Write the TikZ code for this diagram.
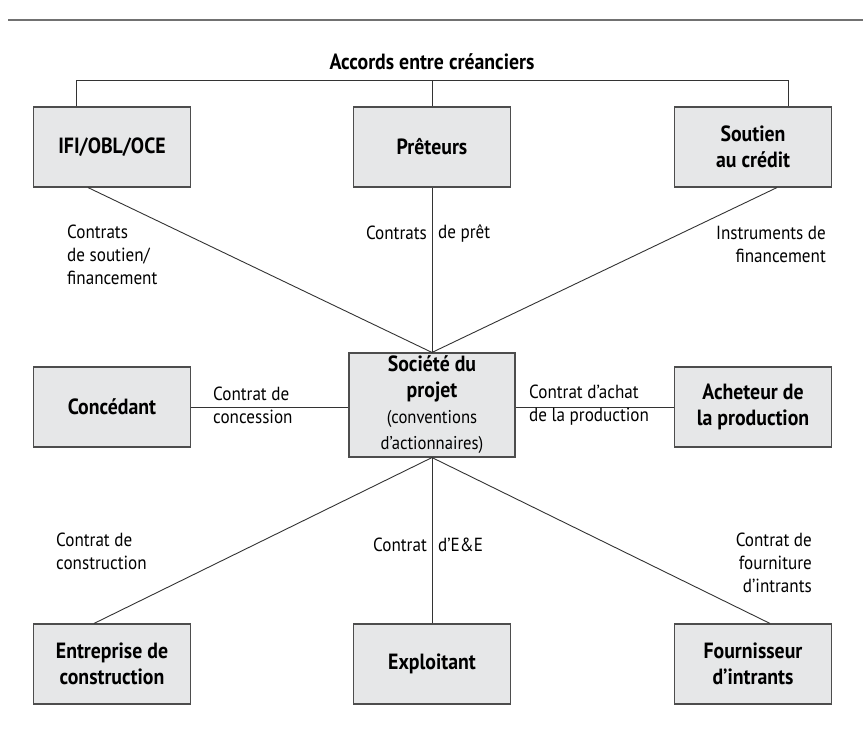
\documentclass[tikz,border=0pt]{standalone}
\usepackage{fontspec}
\setmainfont[FakeStretch=0.9]{PT Sans}
\definecolor{boxfill}{HTML}{E6E7E8}
\definecolor{boxline}{HTML}{4D4D4D}
\definecolor{linkline}{HTML}{333333}
\newcommand{\smallnote}{\mdseries\fontsize{18.5}{21}\selectfont}
\begin{document}
\begin{tikzpicture}[x=1pt, y=-1pt,
        party/.style={draw=boxline, fill=boxfill, line width=1.1pt, minimum width=157pt, minimum height=80pt, inner sep=2pt, align=center, font=\bfseries\fontsize{22}{26}\selectfont},
        title/.style={font=\bfseries\fontsize{22}{26}\selectfont, inner sep=0pt},
        contract/.style={font=\fontsize{19}{23}\selectfont, inner sep=0pt},
        link/.style={draw=linkline, line width=0.9pt},
        rule/.style={draw=boxline!80, line width=1.6pt},
    ]
	\useasboundingbox (0,0) rectangle (863,747);
	\draw[rule] (8,20) -- (863,20);
	\node[title] (accords) at (432,62) {Accords entre créanciers};
	% parties
	\node[party] (ifi) at (112,147) {IFI/OBL/OCE};
	\node[party] (pret) at (432,147) {Prêteurs};
	\node[party] (soutien) at (753,147) {Soutien\\au crédit};
	\node[party] (conc) at (112,407) {Concédant};
	\node[party, minimum width=166pt, minimum height=104pt] (societe) at (432,405) {Société du\\projet\\\smallnote(conventions\\\smallnote d’actionnaires)};
	\node[party] (achet) at (753,407) {Acheteur de\\la production};
	\node[party] (constr) at (112,664) {Entreprise de\\construction};
	\node[party] (exploit) at (432,664) {Exploitant};
	\node[party] (fourn) at (753,664) {Fournisseur\\d’intrants};
	% connectors
	\draw[link] ([xshift=-36pt]ifi.north) -- ++(0,-26) -| ([xshift=35pt]soutien.north);
	\draw[link] (pret.north) -- ++(0,-26);
	\draw[link] ([xshift=-24pt]ifi.south) -- (societe.north);
	\draw[link] (pret.south) -- (societe.north);
	\draw[link] ([xshift=24pt]soutien.south) -- (societe.north);
	\draw[link] (conc.east) -- (conc.east -| societe.west);
	\draw[link] (achet.west) -- (achet.west -| societe.east);
	\draw[link] ([xshift=-18pt]constr.north) -- (societe.south);
	\draw[link] (exploit.north) -- (societe.south);
	\draw[link] ([xshift=17pt]fourn.north) -- (societe.south);
	% contract labels
	\node[contract, anchor=west, align=left] (l_fin) at (67,255) {Contrats\\de soutien/\\financement};
	\node[contract, anchor=east] (l_pret1) at (427,233) {Contrats};
	\node[contract, anchor=west] (l_pret2) at (438,233) {de prêt};
	\node[contract, anchor=east, align=right] (l_instr) at (826,244) {Instruments de\\financement};
	\node[contract, anchor=west, align=left] (l_conc) at (213,405) {Contrat de\\concession};
	\node[contract, anchor=west, align=left] (l_achat) at (529,405) {Contrat d’achat\\de la production};
	\node[contract, anchor=west, align=left] (l_constr) at (56,551) {Contrat de\\construction};
	\node[contract, anchor=east] (l_ee1) at (427,545) {Contrat};
	\node[contract, anchor=west] (l_ee2) at (438,545) {d’E\&E};
	\node[contract, anchor=east, align=right] (l_fourn) at (812,563) {Contrat de\\fourniture\\d’intrants};
    \end{tikzpicture}
\end{document}
